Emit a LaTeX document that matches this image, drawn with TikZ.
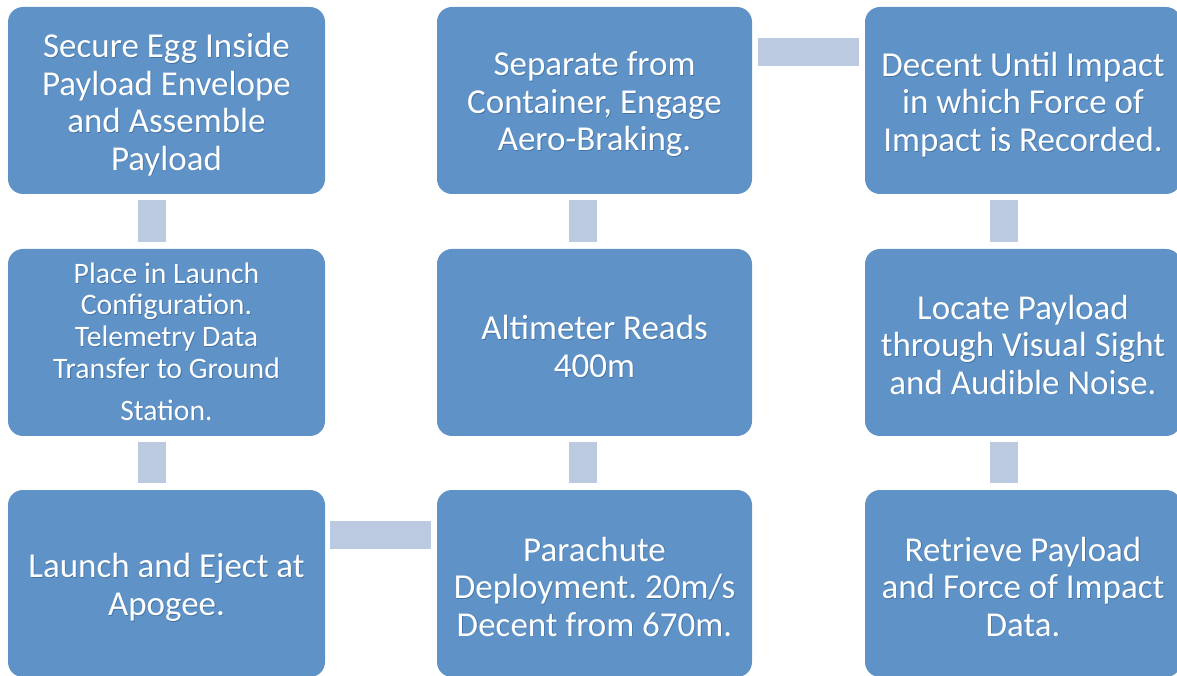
\documentclass[tikz,border=0pt]{standalone}
\usepackage{fontspec}
\setmainfont{Carlito}
\frenchspacing
\definecolor{boxblue}{HTML}{5F93C7}
\definecolor{barblue}{HTML}{BBC9E1}
\definecolor{shadowblue}{HTML}{2F5A8A}
\tikzset{
  stepbox/.style={rectangle, rounded corners=15pt, fill=boxblue, draw=none,
    minimum height=187pt, inner sep=0pt},
  txt/.style={inner sep=0pt, align=center, text=white,
    font=\frenchspacing\fontsize{35}{37.5}\selectfont},
  shadowtxt/.style={txt, text=shadowblue, text opacity=0.55},
  smalltext/.style={font=\frenchspacing\fontsize{29.7}{31.7}\selectfont},
  bar/.style={draw=barblue, line width=28pt, line cap=butt},
}
% name, position, width, text style, text, text yshift
\newcommand\stepnode[6]{%
  \node[stepbox, minimum width=#3] (#1) at #2 {};
  \node[shadowtxt,#4] (#1s) at ([xshift=0.8pt,yshift=#6-0.8pt]#1.center) {#5};
  \node[txt,#4] (#1t) at ([yshift=#6]#1.center) {#5};
}
\begin{document}
\begin{tikzpicture}[x=1pt,y=1pt]
\useasboundingbox (0,0) rectangle (1177,675);
\fill[white] (0,0) rectangle (1177,675);
% column 1
\stepnode{n1}{(166.5,574.5)}{317pt}{}{Secure Egg Inside\\Payload Envelope\\and Assemble\\Payload}{-4pt}
\stepnode{n2}{(166.5,332.5)}{317pt}{smalltext}{Place in Launch\\Configuration.\\Telemetry Data\\Transfer to Ground\\[10pt]Station.}{1pt}
\stepnode{n3}{(166.5,91.5)}{317pt}{}{Launch and Eject at\\Apogee.}{-4pt}
% column 2
\stepnode{n4}{(594.5,91.5)}{315pt}{}{Parachute\\Deployment. 20m/s\\Decent from 670m.}{-3pt}
\stepnode{n5}{(594.5,332.5)}{315pt}{}{Altimeter Reads\\400m}{-4pt}
\stepnode{n6}{(594.5,574.5)}{315pt}{}{Separate from\\Container, Engage\\Aero-Braking.}{-4pt}
% column 3
\stepnode{n7}{(1023,574.5)}{316pt}{}{Decent Until Impact\\in which Force of\\Impact is Recorded.}{-4pt}
\stepnode{n8}{(1023,332.5)}{316pt}{}{Locate Payload\\through Visual Sight\\and Audible Noise.}{-2pt}
\stepnode{n9}{(1023,91.5)}{316pt}{}{Retrieve Payload\\and Force of Impact\\Data.}{-3pt}
% connectors
\draw[bar] ([xshift=-14.5pt,yshift=-6pt]n1.south) -- ([xshift=-14.5pt,yshift=7pt]n2.north);
\draw[bar] ([xshift=-14.5pt,yshift=-6pt]n2.south) -- ([xshift=-14.5pt,yshift=7pt]n3.north);
\draw[bar] ([xshift=5pt,yshift=49pt]n3.east) -- ([xshift=-6pt,yshift=49pt]n4.west);
\draw[bar] ([xshift=-12pt,yshift=-6pt]n5.south) -- ([xshift=-12pt,yshift=7pt]n4.north);
\draw[bar] ([xshift=-12pt,yshift=-6pt]n6.south) -- ([xshift=-12pt,yshift=7pt]n5.north);
\draw[bar] ([xshift=6pt,yshift=48.5pt]n6.east) -- ([xshift=-6pt,yshift=48.5pt]n7.west);
\draw[bar] ([xshift=-19pt,yshift=-6pt]n7.south) -- ([xshift=-19pt,yshift=7pt]n8.north);
\draw[bar] ([xshift=-19pt,yshift=-6pt]n8.south) -- ([xshift=-19pt,yshift=7pt]n9.north);
\end{tikzpicture}
\end{document}
